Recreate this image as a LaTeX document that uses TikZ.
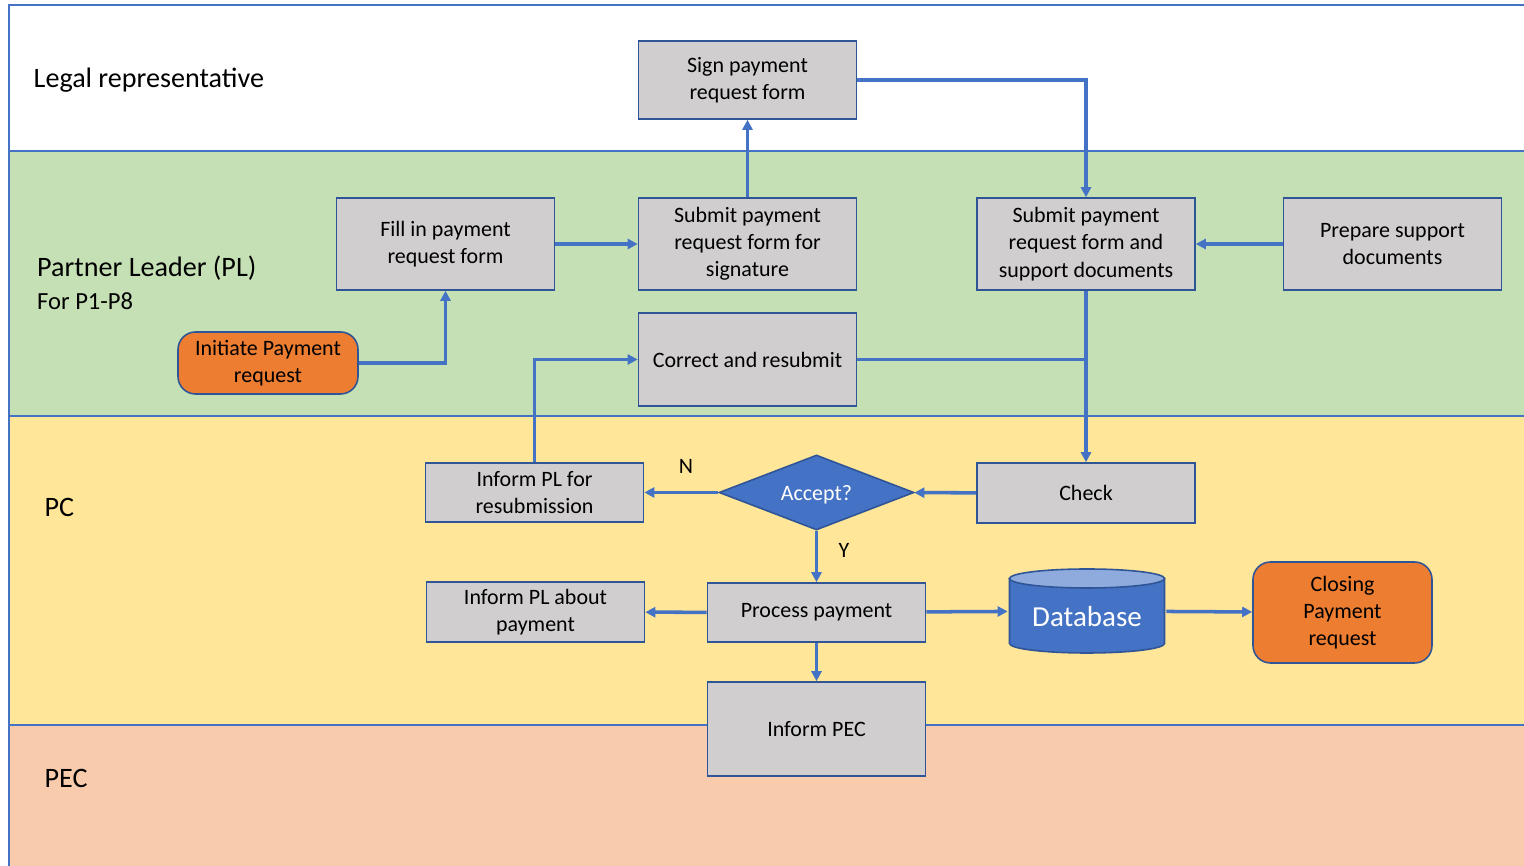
\documentclass[tikz,border=0pt]{standalone}
\usepackage{fontspec}
\setmainfont{Carlito}
\usepackage{tikz}
\usetikzlibrary{arrows.meta,calc,positioning,shapes.geometric}

\definecolor{laneblue}{HTML}{4472C4}
\definecolor{boxline}{HTML}{2F5597}
\definecolor{boxgray}{HTML}{D0CECE}
\definecolor{plgreen}{HTML}{C5E0B4}
\definecolor{pcyellow}{HTML}{FFE699}
\definecolor{pecpeach}{HTML}{F8CBAD}
\definecolor{startorange}{HTML}{ED7D31}
\definecolor{dbtop}{HTML}{8FAADC}

\begin{document}
\begin{tikzpicture}[>={Triangle[length=2mm,width=2mm]}]
    \tikzstyle{proc}=[rectangle,draw=boxline,line width=0.9pt,fill=boxgray,align=center,
        minimum width=4.36cm,font=\fontsize{12.5}{15.5}\selectfont]
    \tikzstyle{startstop}=[proc,rounded corners=3.5mm,fill=startorange,minimum width=3.6cm]
    \tikzstyle{lane}=[draw=laneblue,line width=0.8pt]
    \tikzstyle{lanetext}=[anchor=west,font=\fontsize{16}{19}\selectfont]
    \tikzstyle{flow}=[draw=laneblue,line width=2pt]
    \useasboundingbox (0,0) rectangle (30.48,17.32);
    \clip (0,0) rectangle (30.48,17.32);

    % swim lanes
    \filldraw[lane,fill=pecpeach] (0.18,-1) rectangle (31,2.82);
    \filldraw[lane,fill=pcyellow] (0.18,2.82) rectangle (31,9.0);
    \filldraw[lane,fill=plgreen] (0.18,9.0) rectangle (31,14.30);
    \filldraw[lane,fill=white] (0.18,14.30) rectangle (31,17.22);
    \node[lanetext] (lrlabel) at (0.55,15.72) {Legal representative};
    \node[lanetext] (pllabel) at (0.62,11.96) {Partner Leader (PL)};
    \node[lanetext,font=\fontsize{14}{17}\selectfont] (pllabel2) at (0.62,11.30) {For P1-P8};
    \node[lanetext] (pclabel) at (0.77,7.18) {PC};
    \node[lanetext] (peclabel) at (0.77,1.76) {PEC};

    % steps
    \node[proc,minimum height=1.56cm] (sign) at (14.95,15.72) {Sign payment\\request form};
    \node[proc,minimum height=1.84cm] (fill) at (8.91,12.44) {Fill in payment\\request form};
    \node[proc,minimum height=1.84cm] (subsig) at (14.95,12.44) {Submit payment\\request form for\\signature};
    \node[proc,minimum height=1.84cm] (subsup) at (21.72,12.44) {Submit payment\\request form and\\support documents};
    \node[proc,minimum height=1.84cm] (prep) at (27.85,12.44) {Prepare support\\documents};
    \node[startstop,minimum height=1.24cm] (init) at (5.36,10.06) {Initiate Payment\\request};
    \node[proc,minimum height=1.86cm] (correct) at (14.95,10.13) {Correct and resubmit};
    \node[proc,minimum height=1.18cm] (resub) at (10.69,7.47) {Inform PL for\\resubmission};
    \node[diamond,aspect=2.6,draw=boxline,line width=0.9pt,fill=laneblue,text=white,inner sep=0pt,
        minimum width=3.9cm,minimum height=1.5cm,font=\fontsize{12.5}{15.5}\selectfont] (accept) at (16.33,7.47) {\raisebox{-4.5pt}[0pt][0pt]{Accept?}};
    \node[proc,minimum height=1.2cm] (check) at (21.72,7.46) {Check};
    \node[proc,minimum height=1.2cm] (about) at (10.71,5.08) {Inform PL about\\payment};
    \node[proc,minimum height=1.18cm] (process) at (16.33,5.07) {Process payment};
    \node[minimum width=3.16cm,minimum height=1.7cm,inner sep=0pt,text=white,
        font=\fontsize{16.5}{19}\selectfont,
        path picture={
            \filldraw[fill=laneblue,draw=boxline,line width=0.9pt]
                ($(path picture bounding box.north west)+(0.03,-0.2)$)
                -- ($(path picture bounding box.south west)+(0.03,0.2)$)
                arc[start angle=180,end angle=360,x radius=1.55cm,y radius=0.19cm]
                -- ($(path picture bounding box.north east)+(-0.03,-0.2)$) -- cycle;
            \filldraw[fill=dbtop,draw=boxline,line width=0.9pt]
                ($(path picture bounding box.north)+(0,-0.2)$) ellipse[x radius=1.55cm,y radius=0.19cm];
        }] (db) at (21.74,5.10) {\raisebox{-9pt}[0pt][0pt]{Database}};
    \node[startstop,minimum height=2.02cm,minimum width=3.58cm] (closing) at (26.85,5.07) {Closing\\Payment\\request};
    \node[proc,minimum height=1.88cm] (pec) at (16.33,2.74) {Inform PEC};

    % flow
    \draw[flow,->] (init.east) -| (fill.south);
    \draw[flow,->] (fill) -- (subsig);
    \draw[flow,->] (subsig) -- (sign);
    \draw[flow,->] (sign.east) -| (subsup.north);
    \draw[flow,->] (prep) -- (subsup);
    \draw[flow,->] (subsup) -- (check);
    \draw[flow] (correct.east) -- (correct.east -| subsup.south);
    \draw[flow,->] (check) -- (accept);
    \draw[flow,->] (accept) -- (resub);
    \draw[flow,->] (resub.north) |- (correct.west);
    \draw[flow,->] (accept) -- (process);
    \draw[flow,->] (process) -- (about);
    \draw[flow,->] (process) -- (db);
    \draw[flow,->] (db) -- (closing);
    \draw[flow,->] (process) -- (pec);
    \node[font=\fontsize{12.5}{15}\selectfont] (nlabel) at (13.72,8.0) {N};
    \node[font=\fontsize{12.5}{15}\selectfont] (ylabel) at (16.88,6.32) {Y};
\end{tikzpicture}
\end{document}
